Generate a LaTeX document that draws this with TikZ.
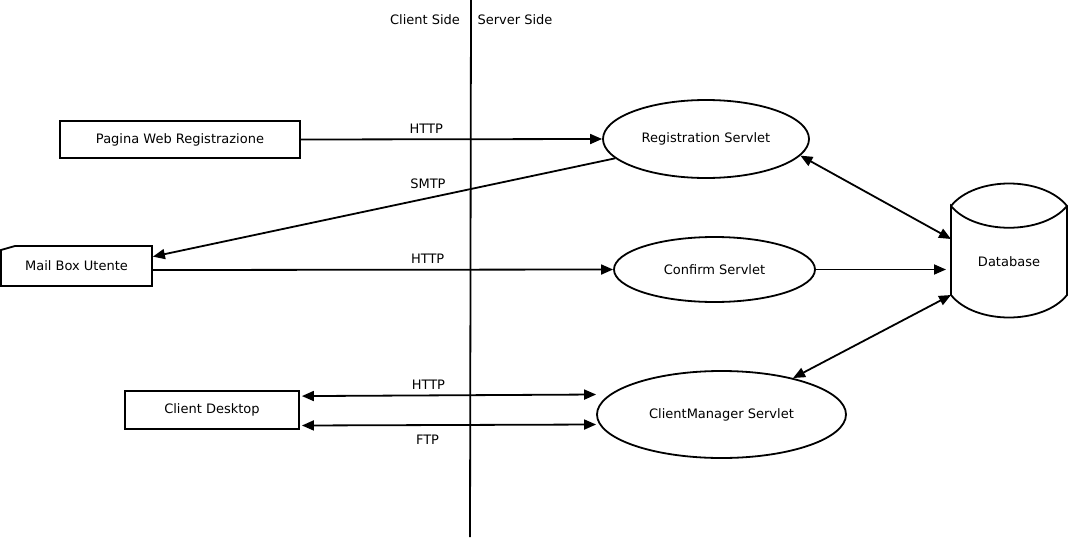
\documentclass[tikz,border=0pt]{standalone}
\usepackage{fontspec}
\setmainfont{DejaVu Sans}
\usetikzlibrary{arrows.meta, shapes.geometric}

\begin{document}
\begin{tikzpicture}[x=1pt, y=-1pt,
			>={Triangle[length=12pt,width=10pt]},
			line width=1.8pt,
			every node/.style={font=\fontsize{13}{15}\selectfont, inner sep=1pt},
			pagebox/.style={draw, rectangle, line width=1.8pt, inner sep=0pt},
			servlet/.style={draw, ellipse, line width=1.8pt, inner sep=0pt}]

			\useasboundingbox (0,0) rectangle (1068,538);

			\coordinate (top) at (471,0);
			\coordinate (bot) at (470,537);
			\draw (top) -- (bot);
			\node (client) at (425,20) {Client Side};
			\node (server) at (515,20) {Server Side};

			\node[pagebox, minimum width=240pt, minimum height=37pt] (web) at (180,139.5) {Pagina Web Registrazione};
			\node[minimum width=151pt, minimum height=40pt] (mail) at (76.5,266) {Mail Box Utente};
			\draw (1,250) -- (15,246) -- (152,246) -- (152,286) -- (1,286) -- cycle;
			\node[pagebox, minimum width=174pt, minimum height=38pt] (desk) at (212,410) {Client Desktop};

			\node[servlet, minimum width=206pt, minimum height=78pt] (reg) at (706,139) {Registration Servlet};
			\node[servlet, minimum width=201pt, minimum height=65pt] (conf) at (714.5,269.5) {Confirm Servlet};
			\node[servlet, minimum width=249pt, minimum height=87pt] (cm) at (721.5,414.5) {ClientManager Servlet};

			\node (db) at (1009,262) {Database};
			\draw (951,206) .. controls (975,176) and (1043,176) .. (1067,206)
				.. controls (1043,235) and (975,235) .. (951,206) -- (951,295)
				.. controls (975,325) and (1043,325) .. (1067,295) -- (1067,206);
			\coordinate (dbA) at (951,239);
			\coordinate (dbB) at (946,269.5);
			\coordinate (dbC) at (951,295);

			\draw[->] (web.east) -- (reg.west) node [pos=0.416, above=4pt] {HTTP};
			\draw[->] (reg.192) -- (mail.7) node [pos=0.405, above=8pt] {SMTP};
			\draw[->] (mail.-3) -- (conf.west) node [pos=0.597, above=4pt] {HTTP};
			\draw[->] (conf.east) -- (dbB);
			\draw[<->] (reg.-10) -- (dbA);
			\draw[<->] (cm.27) -- (dbC);
			\draw[<->] ([xshift=2pt]desk.9) -- ([yshift=20pt]cm.west) node [pos=0.43, above=4pt] {HTTP};
			\draw[<->] ([xshift=2pt]desk.-10) -- ([yshift=-10pt]cm.west) node [pos=0.427, below=8pt] {FTP};
		\end{tikzpicture}
\end{document}
